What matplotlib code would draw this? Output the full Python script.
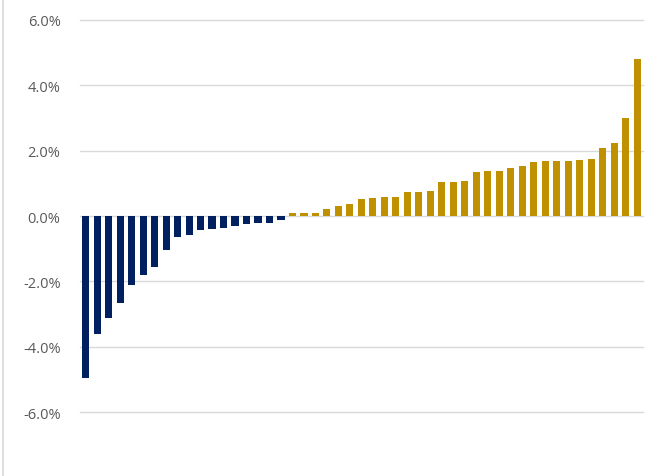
import matplotlib
matplotlib.use("Agg")
import matplotlib.pyplot as plt
from matplotlib.lines import Line2D
from matplotlib.ticker import FuncFormatter

# values in percent
negative = [-4.95, -3.62, -3.11, -2.67, -2.11, -1.81, -1.55, -1.04, -0.65,
            -0.57, -0.44, -0.41, -0.38, -0.32, -0.24, -0.21, -0.20, -0.12]
positive = [0.10, 0.10, 0.10, 0.21, 0.30, 0.38, 0.52, 0.55, 0.58, 0.58,
            0.74, 0.74, 0.78, 1.03, 1.05, 1.08, 1.36, 1.39, 1.39, 1.48,
            1.53, 1.64, 1.69, 1.69, 1.69, 1.72, 1.75, 2.09, 2.24, 3.01, 4.82]
y_ticks = [-6, -4, -2, 0, 2, 4, 6]

values = negative + positive
colors = ['#002060'] * len(negative) + ['#BF9000'] * len(positive)

plt.rcParams['font.family'] = ['Open Sans', 'DejaVu Sans']

fig = plt.figure(figsize=(6.5, 4.77), dpi=100)
ax = fig.add_axes([0.123, 0.134, 0.866, 0.822])

ax.bar(range(len(values)), values, width=0.62, color=colors, zorder=3)

ax.set_xlim(-0.5, len(values) - 0.5)
ax.set_ylim(-6, 6)
ax.set_yticks(y_ticks)
ax.yaxis.set_major_formatter(FuncFormatter(lambda v, p: '%.1f%%' % v))
ax.set_xticks([])
ax.grid(axis='y', color='#D9D9D9', linewidth=1, zorder=0)
for g in ax.yaxis.get_gridlines():
    g.set_clip_on(False)
for s in ax.spines.values():
    s.set_visible(False)
ax.tick_params(axis='y', length=0, pad=14, labelsize=10.5, labelcolor='#595959')

# chart border on the left edge
fig.add_artist(Line2D([0.004, 0.004], [0.0, 1.0], color='#D9D9D9', linewidth=1.2))

fig.savefig('out.png', dpi=100)
